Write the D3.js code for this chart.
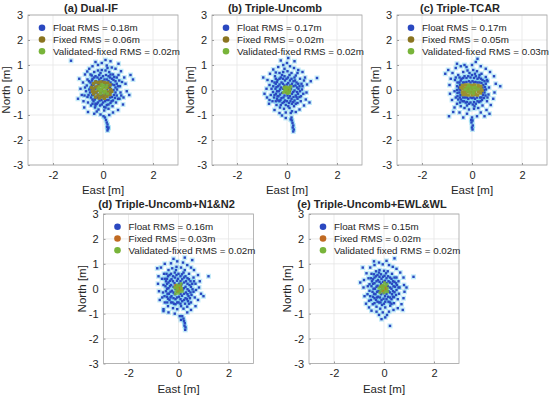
<!DOCTYPE html>
<head>
<meta charset="utf-8">
<title>Float / fixed position scatter</title>
<script src="https://d3js.org/d3.v7.min.js"></script>
<style>
  body { margin: 0; background: #fff; }
  text { font-family: "Liberation Sans", Arial, sans-serif; fill: #262626; }
</style>
</head>
<body>
<div id="container"></div>
<script>

// ---- data (metres, East / North) ----
const titles = ["(a) Dual-IF", "(b) Triple-Uncomb", "(c) Triple-TCAR",
  "(d) Triple-Uncomb+N1&N2", "(e) Triple-Uncomb+EWL&WL"];
const floatRms = [0.18, 0.17, 0.17, 0.16, 0.15];
const fixedRms = [0.06, 0.02, 0.05, 0.03, 0.02];
const validRms = [0.02, 0.02, 0.03, 0.02, 0.02];
const validWord = ["Validated-fixed", "Validated-fixed", "Validated-fixed", "Validated-fixed", "Validated fixed"];
const xTicks = [-2, 0, 2];
const yTicks = [-3, -2, -1, 0, 1, 2, 3];

const floatA = [[-0.5,0.3],[-0.5,0.1],[-0.52,-0.1],[-0.48,-0.3],[-0.42,0.45],[-0.4,0.2],[-0.38,0],[-0.4,-0.2],[-0.38,-0.45],[-0.3,0.55],[-0.28,0.35],[-0.3,0.12],[-0.26,-0.1],[-0.3,-0.32],[-0.25,-0.55],[-0.15,0.6],[-0.15,0.42],[-0.18,0.22],[-0.14,0.02],[-0.16,-0.2],[-0.14,-0.42],[-0.12,-0.62],[0,0.55],[-0.02,0.35],[0.02,0.15],[0,-0.05],[0.02,-0.28],[0,-0.5],[0.05,-0.68],[0.12,0.6],[0.15,0.42],[0.14,0.22],[0.16,0.02],[0.13,-0.18],[0.15,-0.4],[0.15,-0.6],[0.28,0.5],[0.3,0.3],[0.28,0.1],[0.3,-0.1],[0.28,-0.3],[0.3,-0.52],[0.42,0.4],[0.45,0.2],[0.42,0],[0.44,-0.2],[0.4,-0.42],[0.55,0.25],[0.56,0.02],[0.55,-0.22],
  [-0.44,0.38],[-0.45,0.2],[-0.46,0],[-0.44,-0.2],[-0.42,-0.38],[-0.35,0.5],[-0.34,0.28],[-0.33,0.05],[-0.35,-0.15],[-0.33,-0.38],[-0.3,-0.55],[-0.22,0.5],[-0.22,0.3],[-0.22,0.05],[-0.2,-0.3],[-0.2,-0.5],[-0.08,0.48],[-0.08,0.25],[-0.06,-0.2],[-0.06,-0.4],[-0.05,-0.58],[0.06,0.42],[0.08,0.22],[0.08,-0.15],[0.08,-0.45],[0.22,0.55],[0.22,0.36],[0.22,0.15],[0.22,-0.18],[0.22,-0.4],[0.22,-0.58],[0.36,0.45],[0.36,0.22],[0.36,-0.05],[0.36,-0.28],[0.34,-0.45],[0.5,0.35],[0.5,0.1],[0.5,-0.1],[0.48,-0.32],[-0.56,0.35],[-0.58,-0.2],[-0.55,0.02],[-0.45,0.58],[-0.42,-0.55],[0.6,0.15],[0.6,-0.35],[0.45,0.52],[-0.1,0.68],[0.1,-0.7],[0.3,0.62],[-0.3,-0.62],
  [-0.62,0.42],[-0.65,0.18],[-0.68,-0.05],[-0.62,-0.28],[-0.6,-0.5],[-0.5,0.62],[-0.48,-0.62],[-0.35,0.72],[-0.32,-0.7],[-0.2,0.78],[-0.18,-0.78],[-0.05,0.8],[0.05,-0.82],[0.1,0.78],[0.22,-0.75],[0.25,0.72],[0.38,-0.65],[0.4,0.62],[0.52,-0.5],[0.55,0.5],[0.65,0.38],[0.68,0.15],[0.7,-0.1],[0.66,-0.35],[0.62,0.6],
  [-0.8,0.3],[-0.85,-0.2],[-0.78,-0.45],[-0.9,0.05],[-0.72,0.62],[-0.75,-0.7],[-0.55,0.85],[-0.6,-0.88],[-0.42,0.95],[-0.35,-0.95],[-0.2,1.0],[-0.05,1.08],[0.15,0.98],[0.35,0.9],[0.5,0.85],[0.72,0.75],[0.85,0.5],[0.9,0.25],[0.95,-0.05],[0.82,-0.3],[0.8,-0.58],[0.6,-0.8],[0.4,-0.9],[0.25,-1.0],[-0.1,-0.98],[-1.0,-0.35],[-0.95,0.45],[1.1,0.6],[1.2,0.42],[1.05,-0.2],[-0.3,1.12],[0.3,1.15],[0.1,1.2],[-1.28,1.17],[0.62,1.05],[-0.72,0.1],[-0.74,-0.22],[0.76,0.32],[0.73,-0.22],[-0.63,0.74],[0.18,0.88],[-0.25,-0.86],
  [0.08,-1.1],[0.12,-1.2],[0.15,-1.3],[0.18,-1.38],[0.16,-1.48],[0.2,-1.55],[0.18,-1.62],[0.22,-1.5],[0.02,-1.05]];
const fixedA = [[-0.38,0.25],[-0.38,0.05],[-0.38,-0.15],[-0.3,0.32],[-0.28,0.12],[-0.3,-0.08],[-0.3,-0.28],[-0.18,0.3],[-0.2,0.15],[-0.18,-0.02],[-0.2,-0.2],[-0.15,-0.32],[-0.08,0.32],[-0.08,0.18],[-0.05,0.02],[-0.1,-0.12],[-0.06,-0.28],[0.05,0.3],[0.05,0.12],[0.08,-0.05],[0.04,-0.2],[0.06,-0.33],[0.18,0.28],[0.18,0.1],[0.2,-0.08],[0.16,-0.25],[0.28,0.2],[0.3,0.02],[0.28,-0.18],[-0.45,0.1],[-0.42,-0.05],[0.35,-0.05]];
const validA = [[-0.15,0.12],[-0.12,-0.02],[-0.1,-0.15],[-0.02,0.1],[0,-0.05],[0.02,0.18],[0.05,-0.12],[0.12,0.08],[0.1,-0.05],[-0.05,0.22],[0.15,0.18],[-0.2,0.05],[0.18,-0.15],[-0.08,0.02]];

const floatB = [[-0.45,0.25],[-0.46,0.05],[-0.44,-0.15],[-0.4,-0.35],[-0.38,0.4],[-0.35,0.15],[-0.33,-0.05],[-0.34,-0.25],[-0.3,-0.45],[-0.25,0.5],[-0.22,0.3],[-0.24,0.1],[-0.2,-0.12],[-0.22,-0.32],[-0.18,-0.52],[-0.1,0.55],[-0.08,0.38],[-0.1,0.18],[-0.06,-0.02],[-0.1,-0.22],[-0.08,-0.42],[-0.05,-0.6],[0.04,0.5],[0.05,0.28],[0.08,0.08],[0.04,-0.12],[0.06,-0.32],[0.08,-0.52],[0.18,0.45],[0.2,0.25],[0.16,0.05],[0.2,-0.15],[0.18,-0.35],[0.2,-0.55],[0.32,0.38],[0.34,0.18],[0.3,-0.02],[0.35,-0.22],[0.3,-0.42],[0.45,0.25],[0.46,0.05],[0.44,-0.15],[0.42,-0.35],[-0.55,0.15],[-0.56,-0.08],[-0.52,-0.3],
  [-0.4,0.32],[-0.42,0.12],[-0.4,-0.05],[-0.38,-0.25],[-0.35,-0.42],[-0.3,0.45],[-0.3,0.22],[-0.28,0.02],[-0.28,-0.18],[-0.26,-0.4],[-0.16,0.45],[-0.16,0.25],[-0.16,0.05],[-0.14,-0.3],[-0.12,-0.48],[-0.02,0.45],[0,0.22],[0.02,-0.22],[0,-0.45],[0.12,0.38],[0.12,0.18],[0.12,-0.05],[0.12,-0.25],[0.14,-0.45],[0.26,0.35],[0.26,0.15],[0.25,-0.08],[0.26,-0.28],[0.25,-0.48],[0.38,0.3],[0.4,0.1],[0.4,-0.08],[0.38,-0.28],[0.5,0.15],[0.52,-0.05],[0.5,-0.28],[-0.5,0.3],[-0.5,-0.2],[-0.45,0.45],[-0.45,-0.45],[-0.2,0.6],[0.1,0.6],[0.3,0.5],[0.05,-0.65],[-0.25,-0.6],[0.35,-0.55],[-0.62,0.05],[0.62,0.15],
  [-0.6,0.35],[-0.65,-0.2],[-0.58,-0.45],[-0.48,0.55],[-0.42,-0.6],[-0.3,0.68],[-0.28,-0.7],[-0.15,0.72],[-0.12,-0.75],[0.02,0.75],[0.1,-0.72],[0.18,0.68],[0.28,-0.65],[0.35,0.58],[0.42,-0.52],[0.52,0.45],[0.58,0.25],[0.6,0.02],[0.56,-0.25],[0.55,-0.45],
  [-0.78,0.4],[-0.82,0.05],[-0.8,-0.3],[-0.72,-0.55],[-0.9,-0.15],[-0.68,0.65],[-0.55,0.82],[-0.5,-0.8],[-0.35,0.92],[-0.3,-0.92],[-0.15,1.0],[0,1.08],[0.12,0.95],[0.28,0.88],[0.45,0.8],[0.62,0.72],[0.72,0.5],[0.8,0.22],[0.78,-0.1],[0.75,-0.38],[0.68,-0.62],[0.5,-0.78],[0.35,-0.88],[0.15,-0.92],[-0.05,-0.9],[-0.2,-1.02],[1.2,0.48],[0.95,0.35],[0.9,-0.5],[-0.95,0.5],[0.05,1.28],[-0.25,1.18],[0.3,1.15],[-0.05,-1.12],[-0.7,0.2],[-0.7,-0.4],[0.68,0.38],[0.65,-0.15],[-0.45,0.7],[0.42,0.68],[-0.1,0.85],[0.2,-0.85],
  [0.18,-1.1],[0.2,-1.22],[0.22,-1.32],[0.25,-1.42],[0.23,-1.5],[0.27,-1.58],[0.25,-1.66],[0.15,-1.18]];
const fixedB = [[-0.06,0.04],[0.02,-0.05],[0.05,0.06],[-0.03,-0.08],[0.08,-0.02],[-0.08,0.1]];
const validB = [[-0.12,0.08],[-0.1,-0.05],[-0.04,0.12],[-0.02,-0.02],[0.04,0.1],[0.06,-0.08],[0.12,0.02],[0.02,-0.14],[-0.15,-0.1],[0.1,-0.12],[0.15,0.14],[-0.06,0.02]];

const floatC = [[-0.5,0.3],[-0.52,0.1],[-0.5,-0.1],[-0.48,-0.3],[-0.42,0.45],[-0.42,0.2],[-0.45,0],[-0.4,-0.2],[-0.38,-0.45],[-0.3,0.55],[-0.3,0.3],[-0.28,-0.3],[-0.25,-0.5],[-0.15,0.55],[-0.12,0.35],[-0.15,-0.35],[-0.12,-0.55],[0,0.6],[0.02,0.35],[0,-0.32],[0.03,-0.58],[0.15,0.55],[0.14,0.32],[0.12,-0.35],[0.15,-0.55],[0.28,0.5],[0.3,0.3],[0.32,-0.3],[0.28,-0.48],[0.42,0.4],[0.45,0.2],[0.48,0],[0.44,-0.2],[0.4,-0.4],[0.55,0.25],[0.56,0.02],[0.54,-0.22],[-0.6,0.15],[-0.58,-0.12],[-0.55,-0.38],[-0.1,0.1],[0.1,-0.1],[0.25,0.05],[-0.25,-0.05],
  [-0.45,0.38],[-0.48,0.2],[-0.5,0.02],[-0.46,-0.2],[-0.44,-0.38],[-0.35,0.48],[-0.36,0.3],[-0.35,-0.3],[-0.32,-0.45],[-0.22,0.48],[-0.22,0.32],[-0.2,-0.3],[-0.2,-0.48],[-0.06,0.5],[-0.06,0.3],[-0.06,-0.3],[-0.06,-0.5],[0.08,0.48],[0.08,0.3],[0.06,-0.3],[0.08,-0.48],[0.22,0.45],[0.22,0.3],[0.2,-0.3],[0.22,-0.45],[0.36,0.45],[0.38,0.28],[0.42,0.1],[0.4,-0.1],[0.38,-0.3],[0.34,-0.45],[0.5,0.35],[0.52,0.12],[0.5,-0.1],[0.48,-0.32],[-0.58,0.3],[-0.6,0],[-0.58,-0.25],[-0.5,0.5],[-0.48,-0.5],[-0.1,0.68],[0.12,0.65],[-0.2,-0.62],[0.1,-0.65],[0.3,0.6],[0.6,0.4],[0.62,-0.3],[-0.65,0.5],
  [-0.68,0.4],[-0.7,-0.05],[-0.65,-0.3],[-0.6,-0.55],[-0.55,0.6],[-0.45,-0.65],[-0.35,0.72],[-0.3,-0.72],[-0.18,0.78],[-0.12,-0.78],[0.05,0.8],[0.08,-0.75],[0.2,0.75],[0.25,-0.72],[0.38,0.65],[0.42,-0.62],[0.55,0.52],[0.62,0.35],[0.68,0.1],[0.66,-0.18],[0.6,-0.45],
  [-0.85,0.45],[-0.9,0.2],[-0.88,-0.15],[-0.8,-0.4],[-0.95,0.8],[-0.78,0.68],[-0.65,0.88],[-0.7,-0.7],[-0.75,-0.88],[-0.92,-1.05],[-0.45,0.95],[-0.5,-0.9],[-0.3,1.0],[-0.22,0.92],[0.0,1.0],[0.15,1.12],[0.22,1.25],[0.35,0.95],[0.55,0.85],[0.72,0.72],[0.88,0.55],[0.95,0.25],[1.13,0.15],[0.9,-0.1],[0.85,-0.35],[0.75,-0.6],[0.58,-0.8],[0.35,-0.9],[0.2,-1.05],[-0.2,-0.95],[-0.35,-1.1],[0.5,-1.05],[-1.07,0.65],[-0.6,1.05],[0.7,-0.95],
  [0,-1.1],[0.02,-1.22],[-0.02,-1.3],[0.03,-1.42],[0,-1.5],[0.02,-1.58],[-0.03,-1.2]];
const fixedC = [[-0.38,0.18],[-0.38,0.05],[-0.38,-0.08],[-0.36,-0.18],[-0.26,0.2],[-0.26,0.08],[-0.28,-0.05],[-0.26,-0.18],[-0.14,0.2],[-0.15,0.06],[-0.14,-0.06],[-0.15,-0.2],[-0.02,0.18],[0,0.05],[-0.02,-0.08],[0,-0.2],[0.1,0.2],[0.12,0.08],[0.1,-0.06],[0.12,-0.18],[0.24,0.18],[0.22,0.06],[0.25,-0.07],[0.22,-0.2],[0.35,0.15],[0.36,0.02],[0.34,-0.12],[-0.44,0.1],[0.4,-0.02]];
const validC = [[-0.2,0.1],[-0.18,-0.04],[-0.08,0.12],[-0.06,0],[-0.08,-0.12],[0.04,0.1],[0.05,-0.04],[0.14,0.12],[0.15,0],[0.06,-0.14],[-0.28,0.02],[0.24,0.04],[-0.14,0.18]];

const floatD = [[-0.5,0.3],[-0.52,0.1],[-0.5,-0.1],[-0.46,-0.32],[-0.42,0.5],[-0.4,0.25],[-0.4,0.02],[-0.38,-0.2],[-0.36,-0.45],[-0.3,0.6],[-0.28,0.38],[-0.3,0.15],[-0.26,-0.08],[-0.28,-0.3],[-0.24,-0.55],[-0.15,0.65],[-0.14,0.45],[-0.16,0.22],[-0.12,0],[-0.15,-0.22],[-0.12,-0.42],[-0.12,-0.62],[0,0.6],[-0.02,0.4],[0.02,0.2],[0.02,-0.32],[0,-0.55],[0.14,0.58],[0.15,0.38],[0.12,0.18],[0.16,-0.05],[0.14,-0.28],[0.15,-0.5],[0.1,-0.7],[0.28,0.5],[0.3,0.3],[0.28,0.08],[0.3,-0.15],[0.28,-0.38],[0.26,-0.6],[0.42,0.38],[0.44,0.15],[0.42,-0.08],[0.4,-0.3],[0.38,-0.5],[0.55,0.2],[0.56,-0.02],[0.52,-0.25],[-0.6,0.15],[-0.62,-0.15],
  [-0.46,0.4],[-0.46,0.2],[-0.46,0],[-0.44,-0.2],[-0.42,-0.4],[-0.36,0.55],[-0.34,0.32],[-0.34,0.1],[-0.32,-0.12],[-0.32,-0.35],[-0.3,-0.55],[-0.22,0.5],[-0.22,0.3],[-0.2,0.08],[-0.2,-0.15],[-0.2,-0.38],[-0.18,-0.6],[-0.08,0.55],[-0.06,0.32],[-0.06,0.12],[-0.06,-0.12],[-0.06,-0.35],[-0.05,-0.55],[0.08,0.5],[0.08,0.3],[0.08,0.1],[0.08,-0.2],[0.08,-0.42],[0.08,-0.6],[0.22,0.45],[0.22,0.25],[0.22,0.02],[0.22,-0.2],[0.22,-0.45],[0.36,0.42],[0.36,0.2],[0.36,-0.02],[0.36,-0.22],[0.34,-0.42],[0.48,0.3],[0.5,0.08],[0.48,-0.15],[0.46,-0.38],[-0.55,0.4],[-0.56,-0.3],[-0.48,0.6],[-0.45,-0.55],[0.2,0.65],[-0.1,0.75],[0.42,-0.6],[0.62,0.3],[0.6,-0.12],
  [-0.66,0.4],[-0.65,-0.35],[-0.58,0.6],[-0.55,-0.55],[-0.4,0.75],[-0.42,-0.7],[-0.25,0.82],[-0.22,-0.78],[-0.08,0.88],[-0.05,-0.82],[0.1,0.85],[0.2,-0.8],[0.25,0.75],[0.35,-0.72],[0.42,0.6],[0.5,-0.55],[0.6,0.45],[0.68,0.2],[0.7,-0.05],[0.65,-0.35],
  [-0.8,0.5],[-0.82,0.2],[-0.78,-0.1],[-0.75,-0.45],[-0.7,0.85],[-0.85,0.82],[-0.6,-0.82],[-0.55,1.0],[-0.4,-0.95],[-0.3,1.02],[-0.15,-1.0],[-0.05,1.1],[0.18,1.05],[0.25,1.25],[0.35,0.95],[0.5,0.85],[0.62,0.75],[0.78,0.55],[0.85,0.3],[0.82,0.05],[0.9,-0.2],[0.78,-0.45],[0.68,-0.7],[0.5,-0.85],[0.35,-0.95],[1.0,-0.3],[1.2,0.5],[0.05,-1.1],[-0.6,-0.9],[0.55,1.15],[-0.2,1.2],
  [0.15,-1.1],[0.2,-1.2],[0.22,-1.3],[0.25,-1.38],[0.24,-1.48],[0.28,-1.55],[0.27,-1.65],[0.1,-1.25]];
const fixedD = [[-0.05,0.05],[0.03,-0.04],[0.06,0.08],[-0.02,-0.1],[0.1,-0.02],[-0.1,0.12]];
const validD = [[-0.15,0.05],[-0.1,-0.08],[-0.05,0.15],[-0.02,-0.02],[0.05,0.12],[0.06,-0.12],[0.12,0.02],[0,-0.18],[-0.12,-0.2],[0.15,-0.1],[0.1,0.2],[-0.06,0.06]];

const floatE = [[-0.48,0.3],[-0.5,0.1],[-0.46,-0.12],[-0.44,-0.32],[-0.38,0.45],[-0.38,0.22],[-0.36,0],[-0.34,-0.22],[-0.32,-0.45],[-0.26,0.55],[-0.24,0.35],[-0.26,0.12],[-0.22,-0.1],[-0.24,-0.32],[-0.2,-0.55],[-0.12,0.58],[-0.1,0.4],[-0.12,0.2],[-0.08,-0.02],[-0.12,-0.22],[-0.1,-0.45],[-0.08,-0.65],[0.02,0.52],[0.04,0.32],[0.04,-0.3],[0.05,-0.52],[0.16,0.5],[0.18,0.3],[0.15,0.1],[0.18,-0.1],[0.16,-0.32],[0.18,-0.52],[0.3,0.4],[0.32,0.2],[0.3,0],[0.32,-0.22],[0.3,-0.42],[0.42,0.28],[0.44,0.08],[0.42,-0.14],[0.4,-0.34],[-0.58,0.18],[-0.58,-0.08],[-0.55,-0.3],[0.52,0.15],[0.5,-0.05],
  [-0.44,0.38],[-0.44,0.2],[-0.42,0],[-0.4,-0.2],[-0.38,-0.38],[-0.32,0.5],[-0.3,0.3],[-0.3,0.08],[-0.28,-0.12],[-0.28,-0.35],[-0.26,-0.52],[-0.18,0.48],[-0.18,0.28],[-0.16,0.08],[-0.16,-0.12],[-0.16,-0.35],[-0.14,-0.55],[-0.04,0.48],[-0.04,0.28],[-0.02,0.1],[-0.02,-0.18],[-0.02,-0.4],[0,-0.6],[0.1,0.42],[0.1,0.22],[0.1,0.05],[0.1,-0.2],[0.1,-0.42],[0.24,0.45],[0.24,0.25],[0.24,0.05],[0.24,-0.15],[0.24,-0.35],[0.24,-0.55],[0.36,0.3],[0.38,0.1],[0.36,-0.1],[0.36,-0.32],[0.48,0.22],[0.48,-0.25],[-0.52,0.42],[-0.52,-0.45],[-0.4,0.58],[-0.38,-0.58],[0.08,0.62],[-0.2,0.65],[0.3,-0.6],[0.42,0.45],[-0.65,0.1],[0.58,0.05],
  [-0.62,0.42],[-0.66,-0.22],[-0.6,-0.48],[-0.5,0.6],[-0.45,-0.62],[-0.32,0.7],[-0.3,-0.72],[-0.18,0.75],[-0.15,-0.8],[0,0.72],[0.05,-0.75],[0.15,0.7],[0.25,-0.68],[0.32,0.6],[0.4,-0.58],[0.5,0.45],[0.58,0.3],[0.62,0.05],[0.6,-0.2],[0.55,-0.42],
  [-0.8,0.35],[-0.82,0.05],[-0.78,-0.3],[-0.72,-0.6],[-0.95,0.25],[-0.7,0.62],[-0.85,0.85],[-0.55,0.85],[-0.5,-0.88],[-0.38,0.95],[-0.3,-0.92],[-0.2,1.05],[-0.05,0.98],[0.1,1.12],[0.2,0.95],[0.35,0.88],[0.5,0.8],[0.65,0.65],[0.78,0.45],[0.8,0.15],[0.82,-0.12],[0.78,-0.38],[0.7,-0.62],[0.55,-0.78],[0.38,-0.85],[0.2,-0.92],[-0.05,-0.95],[-0.2,-1.05],[-0.6,-0.75],[1.18,0.48],[0.9,0.05],[0.42,1.22],[-0.4,1.1],[0.05,-1.15],[-0.1,-1.22],[0.24,-1.49],[0.12,-1.05],[0.75,-0.85]];
const fixedE = [[-0.04,0.04],[0.04,-0.05],[0.06,0.06],[-0.05,-0.08],[0.08,0],[-0.08,0.1]];
const validE = [[-0.14,0.08],[-0.12,-0.06],[-0.05,0.14],[-0.02,0],[0.05,0.12],[0.06,-0.1],[0.13,0.02],[0,-0.16],[-0.16,-0.16],[0.14,-0.12],[0.12,0.18],[-0.06,0.04],[0.02,0.24],[-0.2,0.02]];

const floats = [floatA, floatB, floatC, floatD, floatE];
const fixeds = [fixedA, fixedB, fixedC, fixedD, fixedE];
const valids = [validA, validB, validC, validD, validE];

// ---- layout ----
const width = 550, height = 397;
const boxes = [
  {x: 28, y: 15, w: 150, h: 150},
  {x: 212, y: 15, w: 150, h: 150},
  {x: 397, y: 15, w: 150, h: 150},
  {x: 103.5, y: 214, w: 150, h: 149.5},
  {x: 309, y: 214, w: 150, h: 149.5}
];
const fixedColor = ["#8f8228", "#8f7f24", "#9c9030", "#c46c22", "#c46c22"];
const legendFixed = ["#8a7420", "#8a7420", "#8a7420", "#c06a22", "#c06a22"];
const blue = "#2a48c0", halo = "#5cc8ee", green = "#78b43a";

const svg = d3.select("#container").append("svg")
  .attr("width", width).attr("height", height);

function panel(i) {
  const b = boxes[i];
  const x = d3.scaleLinear().domain([-3, 3]).range([b.x, b.x + b.w]);
  const y = d3.scaleLinear().domain([-3, 3]).range([b.y + b.h, b.y]);
  const g = svg.append("g");

  // grid
  g.append("g").selectAll("line").data(xTicks).join("line")
    .attr("x1", d => x(d)).attr("x2", d => x(d))
    .attr("y1", b.y).attr("y2", b.y + b.h)
    .attr("stroke", "#e6e6e6").attr("stroke-width", 0.8);
  g.append("g").selectAll("line").data(yTicks).join("line")
    .attr("y1", d => y(d)).attr("y2", d => y(d))
    .attr("x1", b.x).attr("x2", b.x + b.w)
    .attr("stroke", "#e6e6e6").attr("stroke-width", 0.8);

  // axes
  const xAxis = d3.axisBottom(x).tickValues(xTicks).tickSize(-2).tickPadding(6).tickFormat(d3.format("d"));
  const yAxis = d3.axisLeft(y).tickValues(yTicks).tickSize(-2).tickPadding(5).tickFormat(d3.format("d"));
  const gx = g.append("g").attr("transform", `translate(0,${b.y + b.h})`).call(xAxis);
  const gy = g.append("g").attr("transform", `translate(${b.x},0)`).call(yAxis);
  [gx, gy].forEach(a => {
    a.select(".domain").remove();
    a.selectAll(".tick line").attr("stroke", "#9a9a9a");
    a.selectAll(".tick text").attr("font-size", 11).attr("fill", "#262626")
      .style("font-family", "'Liberation Sans', Arial, sans-serif")
      .text(d => d < 0 ? "-" + Math.abs(d) : d);
  });

  // scatter: float with cyan halo, then fixed, then validated
  const pts = g.append("g");
  pts.selectAll(".halo").data(floats[i]).join("rect").attr("class", "halo")
    .attr("x", d => x(d[0]) - 2.5).attr("y", d => y(d[1]) - 2.5)
    .attr("width", 5).attr("height", 5)
    .attr("fill", halo).attr("opacity", 0.35);
  pts.selectAll(".fl").data(floats[i]).join("rect").attr("class", "fl")
    .attr("x", d => x(d[0]) - 1.2).attr("y", d => y(d[1]) - 1.2)
    .attr("width", 2.4).attr("height", 2.4).attr("fill", blue);
  pts.selectAll(".fx").data(fixeds[i]).join("rect").attr("class", "fx")
    .attr("x", d => x(d[0]) - 1.7).attr("y", d => y(d[1]) - 1.7)
    .attr("width", 3.4).attr("height", 3.4).attr("fill", fixedColor[i]);
  pts.selectAll(".vd").data(valids[i]).join("rect").attr("class", "vd")
    .attr("x", d => x(d[0]) - 1.5).attr("y", d => y(d[1]) - 1.5)
    .attr("width", 3).attr("height", 3).attr("fill", green).attr("opacity", 0.85);

  // box
  g.append("rect").attr("x", b.x).attr("y", b.y).attr("width", b.w).attr("height", b.h)
    .attr("fill", "none").attr("stroke", "#a6a6a6").attr("stroke-width", 0.8);

  // legend
  const leg = [
    {c: blue, t: `Float RMS = ${floatRms[i].toFixed(2)}m`},
    {c: legendFixed[i], t: `Fixed RMS = ${fixedRms[i].toFixed(2)}m`},
    {c: green, t: `${validWord[i]} RMS = ${validRms[i].toFixed(2)}m`}
  ];
  const lg = g.append("g").selectAll("g").data(leg).join("g")
    .attr("transform", (d, k) => `translate(${b.x + 14},${b.y + 12.7 + k * 11.8})`);
  lg.append("circle").attr("r", 3.3).attr("fill", d => d.c);
  lg.append("text").attr("x", 11).attr("dy", "0.35em").attr("font-size", 9.8).text(d => d.t);

  // title and labels
  g.append("text").attr("x", b.x + b.w / 2 - 12).attr("y", b.y - (i < 3 ? 3.5 : 6.5))
    .attr("text-anchor", "middle").attr("font-weight", "bold").attr("font-size", 11)
    .text(titles[i]);
  g.append("text").attr("x", b.x + b.w / 2).attr("y", b.y + b.h + 29)
    .attr("text-anchor", "middle").attr("font-size", 11.5).text("East [m]");
  g.append("text")
    .attr("transform", `translate(${b.x - 18},${b.y + b.h / 2}) rotate(-90)`)
    .attr("text-anchor", "middle").attr("font-size", 11.5).text("North [m]");
}

for (let i = 0; i < 5; i++) panel(i);

</script>
</body>
